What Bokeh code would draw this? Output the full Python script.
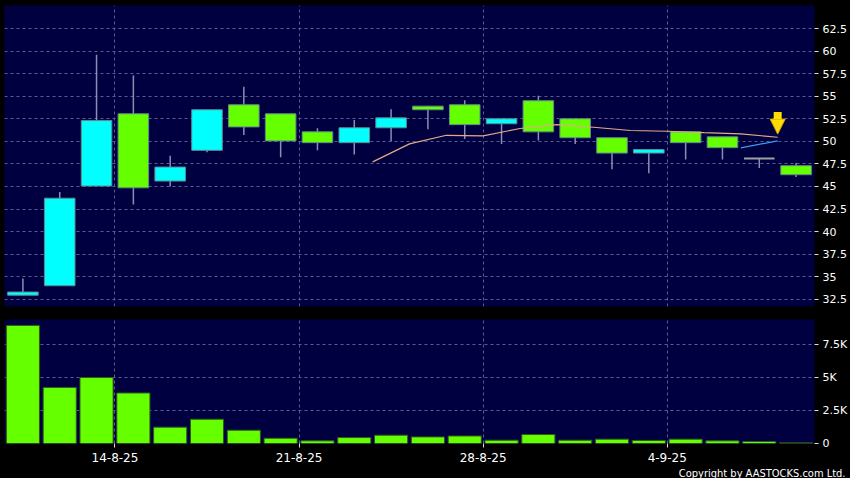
from bokeh.plotting import figure
from bokeh.layouts import column
from bokeh.models import ColumnDataSource, FixedTicker, Range1d, Title, Arrow, NormalHead
from bokeh.embed import file_html
from bokeh.resources import INLINE

# ---------------- data ----------------
idx = list(range(22))
opens  = [32.95, 34.0, 45.05, 53.05, 45.6, 49.0, 54.05, 53.05, 51.05, 49.85, 51.5,
          53.9, 54.05, 51.95, 54.5, 52.5, 50.4, 48.7, 51.05, 50.5, 48.1, 47.3]
highs  = [34.8, 44.4, 59.6, 57.3, 48.4, 53.5, 56.05, 53.05, 51.45, 52.35, 53.55,
          53.9, 54.55, 52.5, 55.05, 52.5, 50.4, 49.1, 51.05, 50.5, 48.1, 47.6]
lows   = [32.95, 34.0, 45.05, 43.0, 45.0, 48.8, 50.7, 48.25, 49.0, 48.55, 50.0,
          51.35, 50.25, 49.7, 50.1, 49.7, 46.9, 46.45, 48.0, 48.0, 47.05, 46.05]
closes = [33.3, 43.7, 52.3, 44.85, 47.15, 53.5, 51.6, 50.05, 49.85, 51.5, 52.6,
          53.5, 51.85, 52.5, 51.05, 50.4, 48.7, 49.1, 49.85, 49.3, 48.1, 46.3]
volumes = [8950, 4250, 5000, 3830, 1240, 1840, 1010, 400, 200, 450, 630,
           500, 570, 250, 680, 250, 330, 230, 330, 200, 150, 50]

ma_x = [9.5, 10.5, 11.5, 12.5, 13.5, 14.5, 15.5, 16.5, 17.5, 18.5, 19.5, 20.5]
ma_vals = [47.72, 49.72, 50.67, 50.61, 51.42, 51.86, 51.56, 51.2, 51.12, 50.97, 50.83, 50.45]
ma2_x = [19.5, 20.5]
ma2_vals = [49.28, 50.06]

arrow_x = [20.5]
arrow_top = [53.25]
arrow_tip = [50.8]

price_ticks = [32.5, 35, 37.5, 40, 42.5, 45, 47.5, 50, 52.5, 55, 57.5, 60, 62.5]
price_labels = ["32.5", "35", "37.5", "40", "42.5", "45", "47.5", "50", "52.5", "55", "57.5", "60", "62.5"]
vol_ticks = [0, 2500, 5000, 7500]
vol_labels = ["0", "2.5K", "5K", "7.5K"]
date_ticks = [2.5, 7.5, 12.5, 17.5]
date_labels = ["14-8-25", "21-8-25", "28-8-25", "4-9-25"]

# ---------------- styles ----------------
UP, DOWN, FLAT = "#00ffff", "#66ff00", "#a0a0a0"
BG = "#000040"
GRID = "#5a5a96"

body_top = [max(o, c) for o, c in zip(opens, closes)]
body_bot = [min(o, c) for o, c in zip(opens, closes)]
colors = [UP if c > o else (DOWN if c < o else FLAT) for o, c in zip(opens, closes)]
edge_colors = ["#5f8a8a" if c != FLAT else FLAT for c in colors]
edge_widths = [1 if c != FLAT else 2 for c in colors]
vol_colors = [DOWN] * (len(volumes) - 1) + ["#45524a"]

src = ColumnDataSource(dict(x=idx, top=body_top, bottom=body_bot, high=highs, low=lows,
                            color=colors, edge=edge_colors, ew=edge_widths))

FONT = "DejaVu Sans"

def style(p):
    p.outline_line_color = None
    for g in (p.xgrid, p.ygrid):
        g.grid_line_color = GRID
        g.grid_line_dash = "3 3"
        g.grid_line_width = 1
    for ax in p.yaxis:
        ax.axis_line_color = None
        ax.major_tick_line_color = "#dddddd"
        ax.major_tick_out = 4
        ax.major_tick_in = 0
        ax.minor_tick_line_color = None
        ax.major_label_text_color = "white"
        ax.major_label_text_font = FONT
        ax.major_label_text_font_size = "11px"
        ax.major_label_standoff = 4

# ---------------- price panel ----------------
p1 = figure(frame_width=810, frame_height=301, x_range=Range1d(-0.5, 21.5),
            y_range=Range1d(31.7, 65.05), y_axis_location="right",
            output_backend="svg", toolbar_location=None,
            min_border_left=4, min_border_right=36, min_border_top=5, min_border_bottom=6,
            background_fill_color=BG, border_fill_color="black")
style(p1)
p1.xaxis.visible = False
p1.xgrid.ticker = FixedTicker(ticks=date_ticks)
p1.ygrid.ticker = FixedTicker(ticks=price_ticks)
p1.yaxis.ticker = FixedTicker(ticks=price_ticks)
p1.yaxis.major_label_overrides = {t: l for t, l in zip(price_ticks, price_labels)}

p1.segment(x0="x", y0="low", x1="x", y1="high", source=src, line_color="#8c8cb4", line_width=1.5)
p1.vbar(x="x", width=0.83, top="top", bottom="bottom", source=src,
        fill_color="color", line_color="edge", line_width="ew")
p1.line(ma_x, ma_vals, line_color="#e8a888", line_width=1.2)
p1.line(ma2_x, ma2_vals, line_color="#3a9cf0", line_width=1.2)

asrc = ColumnDataSource(dict(x=arrow_x, y0=arrow_top, y1=arrow_tip))
p1.add_layout(Arrow(end=NormalHead(size=15, fill_color="#ffdd00", line_color="#d9a800", line_width=1),
                    x_start="x", y_start="y0", x_end="x", y_end="y1", source=asrc,
                    line_color="#ffdd00", line_width=8))

# ---------------- volume panel ----------------
p2 = figure(frame_width=810, frame_height=124, x_range=p1.x_range,
            y_range=Range1d(0, 9400), y_axis_location="right",
            output_backend="svg", toolbar_location=None,
            min_border_left=4, min_border_right=36, min_border_top=7, min_border_bottom=0,
            background_fill_color=BG, border_fill_color="black")
style(p2)
p2.yaxis.ticker = FixedTicker(ticks=vol_ticks)
p2.ygrid.ticker = FixedTicker(ticks=vol_ticks)
p2.yaxis.major_label_overrides = {t: l for t, l in zip(vol_ticks, vol_labels)}
p2.xaxis.ticker = FixedTicker(ticks=date_ticks)
p2.xgrid.ticker = FixedTicker(ticks=date_ticks)
p2.xaxis.major_label_overrides = {t: l for t, l in zip(date_ticks, date_labels)}
p2.xaxis.axis_line_color = None
p2.xaxis.major_tick_line_color = "#dddddd"
p2.xaxis.major_tick_out = 4
p2.xaxis.major_tick_in = 0
p2.xaxis.minor_tick_line_color = None
p2.xaxis.major_label_text_color = "white"
p2.xaxis.major_label_text_font = FONT
p2.xaxis.major_label_text_font_size = "12px"
p2.xaxis.major_label_standoff = 5

p2.vbar(x=idx, width=0.9, top=volumes, bottom=0, fill_color=vol_colors, line_color="#2d5a1e")

p2.add_layout(Title(text="Copyright by AASTOCKS.com Ltd.", align="right", text_color="white",
                    text_font="DejaVu Sans Condensed", text_font_size="11px",
                    text_font_style="normal", standoff=0, offset=-31), "below")

layout = column(p1, p2, spacing=0, styles={"background-color": "black"})

open("out.html", "w").write(file_html(layout, INLINE))
